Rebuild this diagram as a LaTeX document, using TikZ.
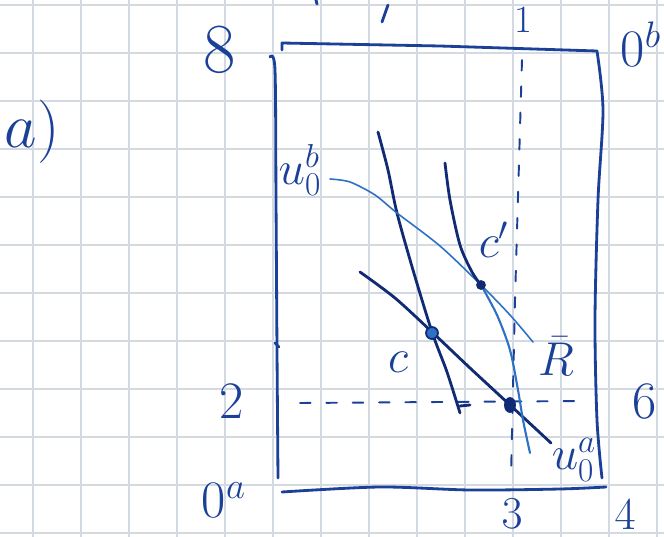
\RequirePackage{fix-cm}
\documentclass[tikz,border=0pt]{standalone}
\usepackage{xcolor}
\definecolor{ink}{RGB}{26,64,152}
\definecolor{inkdark}{RGB}{16,42,118}
\definecolor{inklight}{RGB}{46,112,196}
\definecolor{gridgray}{RGB}{212,218,226}

\begin{document}
\begin{tikzpicture}[x=0.02cm, y=-0.02cm, line cap=round, line join=round,
		pen/.style={draw=ink, line width=1.6pt},
		thinpen/.style={draw=inklight, line width=0.9pt},
		dashpen/.style={draw=ink, line width=1.1pt, dash pattern=on 6pt off 9pt},
		lbl/.style={text=ink, inner sep=0pt, font=\fontsize{27}{31}\selectfont}]
			\useasboundingbox (0,0) rectangle (664,537);

			% Сетка
			\fill[white] (0,0) rectangle (664,537);
			\foreach \x in {33,81,...,661} \draw[gridgray, line width=0.7pt] (\x,0) -- (\x,537);
			\foreach \y in {5,53,...,537} \draw[gridgray, line width=0.7pt] (0,\y) -- (664,\y);

			% Ящик
			\draw[pen] (282,50) -- (282,43) -- (440,46) -- (597,51);
			\draw[pen] plot[smooth] coordinates {(597,51) (603,110) (598,200) (595,320) (597,420) (602,478)};
			\draw[pen] plot[smooth] coordinates {(270,57) (275,70) (276,200) (277,350) (278,478)};
			\draw[pen] plot[smooth] coordinates {(282,492) (380,487) (470,490) (560,489) (606,487)};
			\draw[pen] (275,343) -- (279,347);

			% Обрывки сверху
			\draw[pen] (316,0) -- (317,4);
			\draw[pen] (388,5) -- (382,22);

			% Пунктир
			\draw[dashpen] (522,60) -- (515,300) -- (511,478);
			\draw[dashpen] (300,403) -- (580,401);

			% Кривые
			\draw[pen, draw=inkdark] plot[smooth] coordinates {(378,132) (388,170) (397,213) (413,270) (432,332) (447,372) (460,413)};
			\draw[pen, draw=inkdark] (460,406) -- (470,405);
			\draw[pen, draw=inkdark] plot[smooth] coordinates {(360,272) (395,298) (432,332) (470,368) (510,405) (551,443)};
			\draw[thinpen] plot[smooth] coordinates {(330,179) (350,182) (375,195) (397,213) (440,246) (481,285) (510,315) (533,342)};
			\draw[pen, draw=inkdark] plot[smooth] coordinates {(445,163) (450,200) (460,245) (472,272) (481,285)};
			\draw[thinpen, line width=1.2pt] plot[smooth] coordinates {(481,285) (497,315) (510,350) (518,390) (523,420) (530,453)};

			% Точки
			\fill[inklight, draw=inkdark, line width=1pt] (432,333) circle (3.4pt);
			\fill[inkdark] (481,285) circle (2.8pt);
			\fill[inkdark] (510,405) ellipse (3.4pt and 4.5pt);

			% Подписи
			\node (parta) at (32,132) [lbl, font=\fontsize{36}{40}\selectfont] {$a)$};
			\node (yeight) at (220,50) [lbl, font=\fontsize{40}{44}\selectfont] {$8$};
			\node (ytwo) at (232,402) [lbl, font=\fontsize{30}{34}\selectfont] {$2$};
			\node (ysix) at (645,402) [lbl, font=\fontsize{30}{34}\selectfont] {$6$};
			\node (xthree) at (512,514) [lbl, font=\fontsize{26}{30}\selectfont] {$3$};
			\node (xfour) at (625,515) [lbl, font=\fontsize{26}{30}\selectfont] {$4$};
			\node (xone) at (523,20) [lbl, font=\fontsize{22}{26}\selectfont] {$1$};
			\node (origa) at (224,500) [lbl, font=\fontsize{30}{34}\selectfont] {$0^a$};
			\node (origb) at (641,44) [lbl, font=\fontsize{30}{34}\selectfont] {$0^b$};
			\node (ptc) at (398,362) [lbl] {$c$};
			\node (ptcc) at (494,240) [lbl] {$c'$};
			\node (ratio) at (556,356) [lbl] {$\bar{R}$};
			\node (ubzero) at (300,170) [lbl] {$u^b_0$};
			\node (uazero) at (574,460) [lbl] {$u^a_0$};
		\end{tikzpicture}
\end{document}
